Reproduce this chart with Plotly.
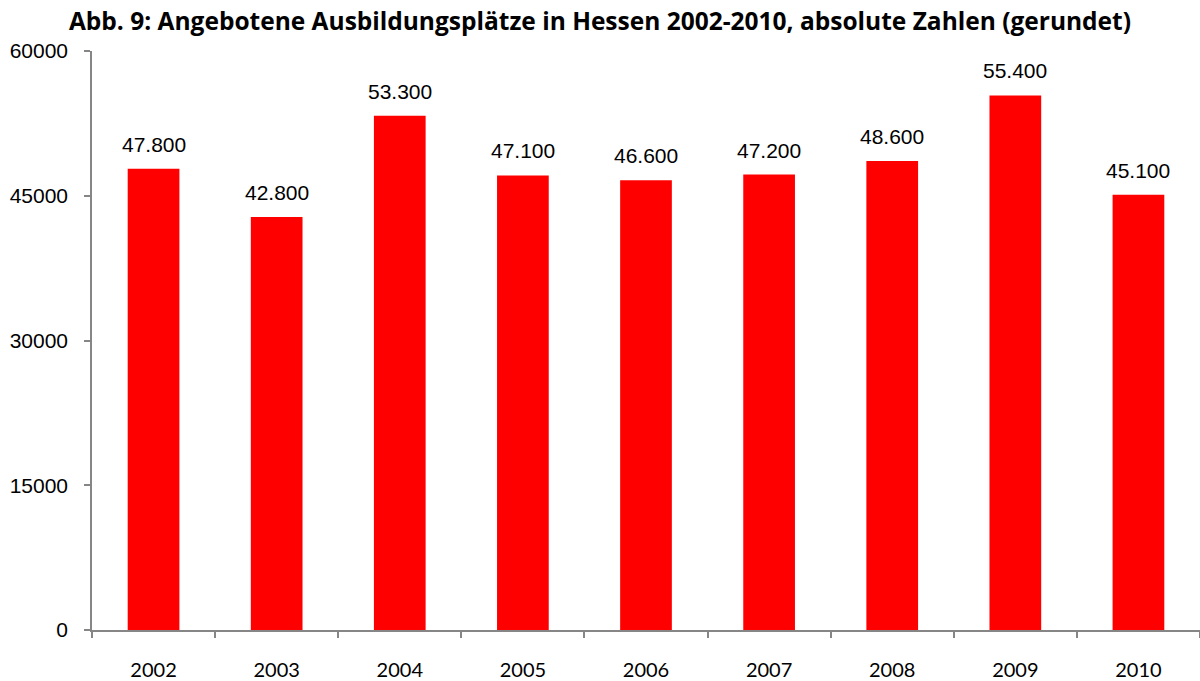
import plotly.graph_objects as go

years = ["2002", "2003", "2004", "2005", "2006", "2007", "2008", "2009", "2010"]
values = [47800, 42800, 53300, 47100, 46600, 47200, 48600, 55400, 45100]
y_ticks = [0, 15000, 30000, 45000, 60000]
title = "Abb. 9: Angebotene Ausbildungsplätze in Hessen 2002-2010, absolute Zahlen (gerundet)"

def de_fmt(v):
    return f"{v:,}".replace(",", ".")

fig = go.Figure()
fig.add_trace(go.Bar(x=years, y=values, marker=dict(color="#FF0000", line=dict(width=0)),
                     width=0.42, hoverinfo="skip"))

for i, v in enumerate(values):
    fig.add_annotation(x=i, y=v, xref="x", yref="y", text=de_fmt(v), showarrow=False, yanchor="bottom",
                       yshift=11, font=dict(family="Liberation Sans, Arial", size=21, color="#000000"))

fig.update_layout(
    width=1200, height=681,
    margin=dict(l=92, r=0, t=51, b=51),
    paper_bgcolor="white", plot_bgcolor="white",
    showlegend=False,
    title=dict(text="<b>" + title + "</b>", x=0.5, xanchor="center", y=0.968, yanchor="middle",
               font=dict(family="Open Sans, sans-serif", size=24.5, color="#000000")),
)
fig.update_xaxes(type="category", range=[-0.5, 8.5], showline=True, linecolor="#868686", linewidth=1.5,
                 ticks="outside", tickson="boundaries", ticklen=6, tickcolor="#868686", tickwidth=1.5,
                 showgrid=False, tickfont=dict(family="Lato, sans-serif", size=20, color="#000000"),
                 ticklabelstandoff=21)
fig.update_yaxes(range=[0, 60000], tickvals=y_ticks, ticktext=[str(t) for t in y_ticks],
                 showline=True, linecolor="#868686", linewidth=1.5, ticks="outside", ticklen=6,
                 tickcolor="#868686", tickwidth=1.5, showgrid=False, zeroline=False,
                 tickfont=dict(family="Liberation Sans, Arial", size=21, color="#000000"),
                 ticklabelstandoff=12)

fig.write_html("out.html", config={"displayModeBar": False},
               post_script="document.body.style.margin='0';")
